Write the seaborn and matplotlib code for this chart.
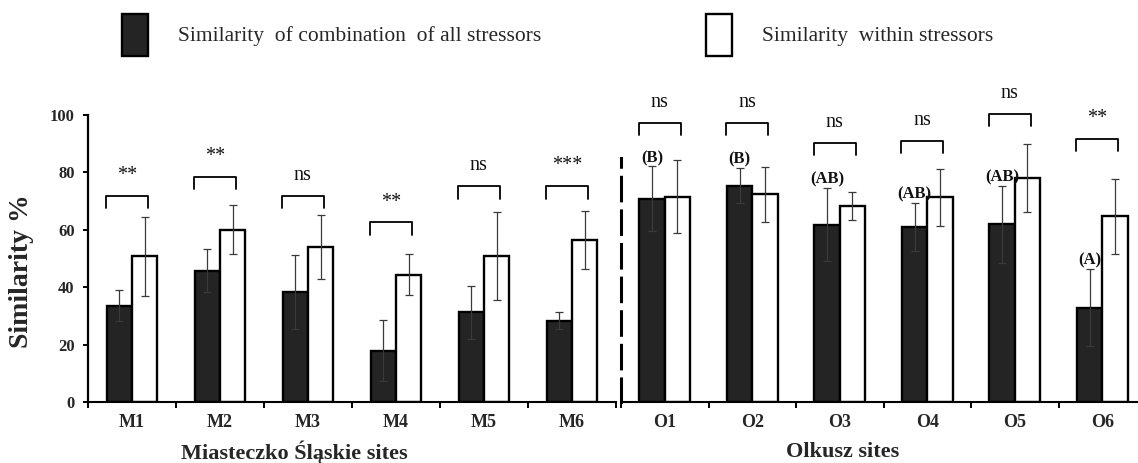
import numpy as np
import pandas as pd
import matplotlib
matplotlib.use("Agg")
import matplotlib.pyplot as plt
import seaborn as sns

# ---------------- data ----------------
series = ["Similarity  of combination  of all stressors", "Similarity  within stressors"]

sites_m = ["M1", "M2", "M3", "M4", "M5", "M6"]
combo_m = [33.6, 45.8, 38.3, 17.8, 31.2, 28.3]
combo_m_err = [5.5, 7.5, 13.0, 10.6, 9.3, 3.0]
within_m = [50.7, 60.0, 54.0, 44.4, 51.0, 56.3]
within_m_err = [13.9, 8.6, 11.0, 7.1, 15.3, 10.1]
sig_m = ["**", "**", "ns", "**", "ns", "***"]
bracket_m = [71.9, 78.4, 71.9, 62.6, 75.2, 75.2]

sites_o = ["O1", "O2", "O3", "O4", "O5", "O6"]
combo_o = [70.9, 75.4, 61.8, 61.0, 62.0, 32.9]
combo_o_err = [11.2, 6.1, 12.8, 8.3, 13.4, 13.5]
within_o = [71.6, 72.4, 68.2, 71.3, 78.1, 64.7]
within_o_err = [12.7, 9.6, 4.9, 10.0, 11.8, 13.0]
sig_o = ["ns", "ns", "ns", "ns", "ns", "**"]
bracket_o = [97.2, 97.2, 90.4, 91.0, 100.5, 91.6]
letters_o = ["(B)", "(B)", "(AB)", "(AB)", "(AB)", "(A)"]

yticks = [0, 20, 40, 60, 80, 100]

# ---------------- style ----------------
sns.set_theme(style="white")
plt.rcParams["font.family"] = ["Liberation Serif", "DejaVu Serif"]

W, H = 1138, 463
fig = plt.figure(figsize=(W / 100, H / 100), dpi=100)

ybot = (H - 402) / H
yh = (402 - 115) / H
axL = fig.add_axes([88 / W, ybot, 528 / W, yh])
axR = fig.add_axes([621 / W, ybot, 525 / W, yh])


def draw_panel(ax, sites, combo, combo_err, within, within_err, width):
    df = pd.DataFrame({
        "site": sites * 2,
        "value": combo + within,
        "series": [series[0]] * len(sites) + [series[1]] * len(sites),
    })
    sns.barplot(data=df, x="site", y="value", hue="series", hue_order=series,
                palette=["#242424", "white"], saturation=1, width=width,
                errorbar=None, edgecolor="black", linewidth=1.7, ax=ax)
    conts = list(ax.containers)
    for cont, err in zip(conts, [combo_err, within_err]):
        xs = [b.get_x() + b.get_width() / 2 for b in cont]
        hs = [b.get_height() for b in cont]
        ax.errorbar(xs, hs, yerr=err, fmt="none", ecolor="#3a3a3a",
                    elinewidth=0.9, capsize=3, capthick=0.9, zorder=4)
    if ax.get_legend() is not None:
        ax.get_legend().remove()
    ax.set_xlabel("")
    ax.set_ylabel("")
    ax.set_ylim(0, 100)
    n = len(sites)
    ax.set_xlim(-0.5, n - 0.5)
    ax.set_xticks(np.arange(-0.5, n, 1.0))
    ax.set_xticklabels([])
    ax.set_xticks(np.arange(n), minor=True)
    ax.set_xticklabels(sites, minor=True, fontsize=13, fontweight="bold")
    ax.tick_params(axis="x", which="major", direction="out", length=4.3,
                   width=1.4, color="black", bottom=True)
    ax.tick_params(axis="x", which="minor", length=0, pad=8.5, bottom=True)
    for s in ["top", "right"]:
        ax.spines[s].set_visible(False)
    ax.spines["bottom"].set_linewidth(1.5)
    ax.spines["bottom"].set_color("black")
    return conts


def draw_brackets(ax, tops, sigs):
    for i, (top, s) in enumerate(zip(tops, sigs)):
        x0, x1 = i - 0.30, i + 0.18
        ax.plot([x0, x0, x1, x1], [top - 4.3, top, top, top - 4.3],
                color="black", lw=1.3, clip_on=False, zorder=5)
        ax.text((x0 + x1) / 2, top + 5.5, s, ha="center", va="baseline",
                fontsize=14.5, color="#111111", clip_on=False)


contsL = draw_panel(axL, sites_m, combo_m, combo_m_err, within_m, within_m_err, 0.57)
contsR = draw_panel(axR, sites_o, combo_o, combo_o_err, within_o, within_o_err, 0.58)

draw_brackets(axL, bracket_m, sig_m)
draw_brackets(axR, bracket_o, sig_o)

# letters above black bars in right panel
for b, err, lab in zip(contsR[0], combo_o_err, letters_o):
    ax_x = b.get_x() + b.get_width() / 2
    axR.text(ax_x, b.get_height() + err + 1.5, lab, ha="center", va="baseline",
             fontsize=12, fontweight="bold", color="#111111", clip_on=False)

# left panel y axis
axL.set_yticks(yticks)
axL.set_yticklabels([str(v) for v in yticks], fontsize=12, fontweight="bold")
axL.tick_params(axis="y", direction="out", length=3.6, width=1.4, pad=6,
                left=True, color="black")
axL.spines["left"].set_linewidth(1.6)
axL.spines["left"].set_color("black")

# right panel: dashed separator as left spine
axR.tick_params(axis="y", left=False, labelleft=False)
axR.spines["left"].set_bounds(0, 85)
axR.spines["left"].set_linestyle((0, (7.7, 3.3)))
axR.spines["left"].set_linewidth(2.2)
axR.spines["left"].set_color("black")

# legend
handles = [contsL[0][0], contsL[1][0]]
for hdl, lab, xpx in zip(handles, series, [122, 706]):
    fig.legend([hdl], [lab], loc="upper left", bbox_to_anchor=(xpx / W, 1 - 14 / H),
               frameon=False, fontsize=15.5, handlelength=1.22, handleheight=2.6,
               handletextpad=1.4, borderpad=0, borderaxespad=0)

# axis titles
fig.text(22 / W, 1 - 271 / H, "Similarity %", rotation=90, fontsize=20,
         fontweight="bold", ha="center", va="center")
fig.text(294 / W, 1 - 452 / H, "Miasteczko Śląskie sites", fontsize=16,
         fontweight="bold", ha="center", va="center")
fig.text(843 / W, 1 - 452 / H, "Olkusz sites", fontsize=16,
         fontweight="bold", ha="center", va="center")

fig.savefig("out.png", dpi=100)
